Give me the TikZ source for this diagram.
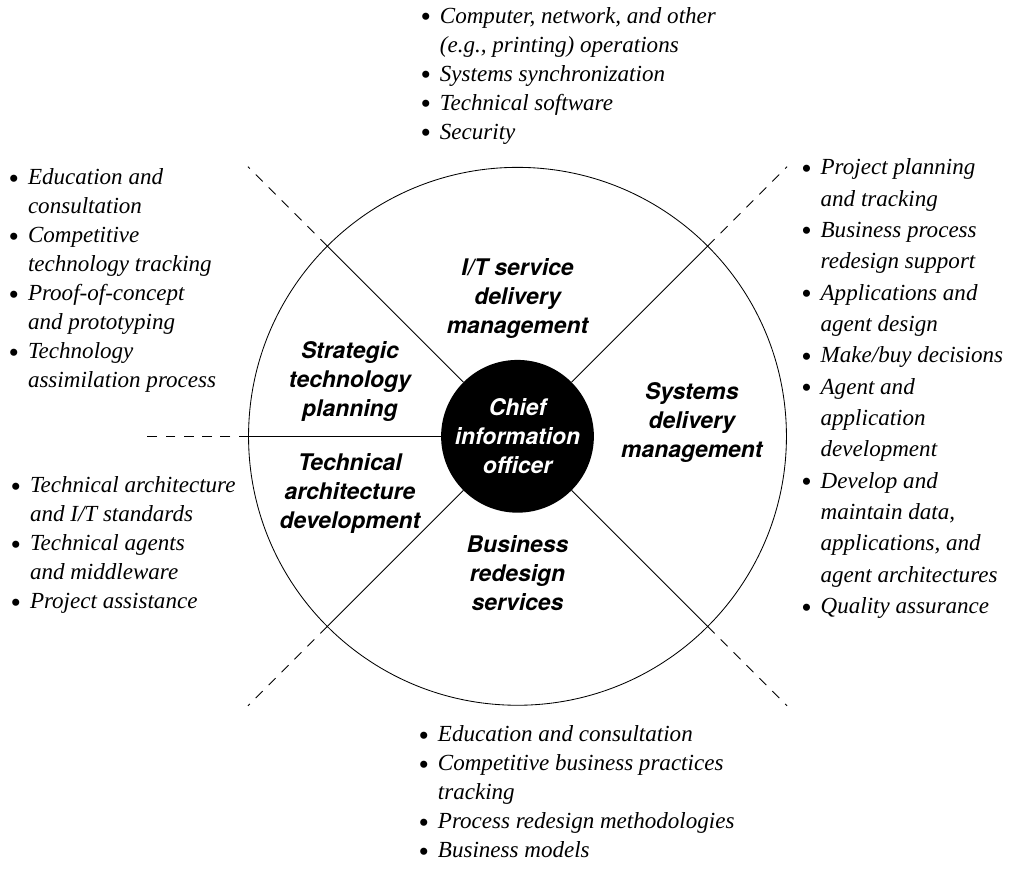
\documentclass[tikz,border=0pt]{standalone}
\usepackage{fontspec}
\setmainfont{Liberation Serif}
\newfontfamily\herosfont{TeX Gyre Heros}
\newcommand{\bl}{\makebox[0.85em][l]{\fontsize{21pt}{0pt}\selectfont\raisebox{-0.25ex}{\textbullet}}}
\newcommand{\ind}{\hspace*{0.85em}}

\begin{document}
\begin{tikzpicture}[
  sector/.style={align=center, inner sep=0, font=\herosfont\bfseries\itshape\fontsize{16.3pt}{20.6pt}\selectfont},
  duties/.style={align=left, anchor=west, inner sep=0, font=\itshape\fontsize{16.4pt}{20.6pt}\selectfont},
  guide/.style={dash pattern=on 7pt off 6pt},
  line width=0.6pt]

\useasboundingbox (-12.94,-10.81) rectangle (12.29,10.91);

\def\d{6.74}; % dashed tips
\def\xh{-9.31}; % horizontal tip

% ring and centre
\node[circle, draw, minimum size=13.45cm, inner sep=0, outer sep=0] (ring) at (0,0) {};
\node[circle, fill=black, minimum size=3.82cm, inner sep=0, outer sep=0, text=white, sector] (cio) at (0,0) {Chief\\information\\officer};

\coordinate (nw) at (-\d, \d);
\coordinate (ne) at (\d, \d);
\coordinate (sw) at (-\d, -\d);
\coordinate (se) at (\d, -\d);
\coordinate (w) at (\xh, 0);

\draw (cio.135) -- (ring.135);
\draw (cio.45) -- (ring.45);
\draw (cio.225) -- (ring.225);
\draw (cio.315) -- (ring.315);
\draw (cio.180) -- (ring.180);

\draw[guide] (ring.135) -- (nw);
\draw[guide] (ring.45) -- (ne);
\draw[guide] (ring.225) -- (sw);
\draw[guide] (ring.315) -- (se);
\draw[guide] (ring.180) -- (w);

% sectors
\node[sector] (itsd) at (0, 3.44) {I/T service\\delivery\\management};
\node[sector] (strat) at (-4.19, 1.36) {Strategic\\technology\\planning};
\node[sector] (tarch) at (-4.19, -1.44) {Technical\\architecture\\development};
\node[sector] (sysd) at (4.36, 0.34) {Systems\\delivery\\management};
\node[sector] (bizr) at (0, -3.41) {Business\\redesign\\services};

% duty lists
\node[duties] (topl) at (-2.44, 9.01) {\bl Computer, network, and other\\\ind (e.g., printing) operations\\\bl Systems synchronization\\\bl Technical software\\\bl Security};
\node[duties] (leftl) at (-12.74, 3.89) {\bl Education and\\\ind consultation\\\bl Competitive\\\ind technology tracking\\\bl Proof-of-concept\\\ind and prototyping\\\bl Technology\\\ind assimilation process};
\node[duties] (archl) at (-12.69, -2.725) {\bl Technical architecture\\\ind and I/T standards\\\bl Technical agents\\\ind and middleware\\\bl Project assistance};
\node[duties, font=\itshape\fontsize{16.4pt}{22.3pt}\selectfont] (rightl) at (7.08, 1.19) {\bl Project planning\\\ind and tracking\\\bl Business process\\\ind redesign support\\\bl Applications and\\\ind agent design\\\bl Make/buy decisions\\\bl Agent and\\\ind application\\\ind development\\\bl Develop and\\\ind maintain data,\\\ind applications, and\\\ind agent architectures\\\bl Quality assurance};
\node[duties] (bizl) at (-2.49, -8.93) {\bl Education and consultation\\\bl Competitive business practices\\\ind tracking\\\bl Process redesign methodologies\\\bl Business models};

\end{tikzpicture}
\end{document}
